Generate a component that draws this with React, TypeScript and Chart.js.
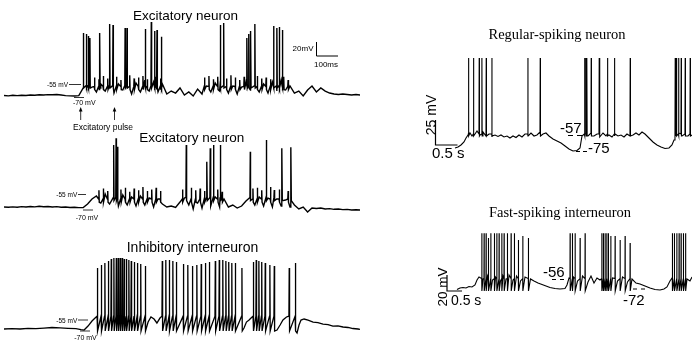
import React, { useEffect, useRef } from "react";
import { Chart, registerables } from "chart.js";

Chart.register(...registerables);

// ---------- Panel A: Excitatory neuron (top) — ms / mV ----------
const A_STEP_MS = 20;
const A_BASE_MV = [
  -69.4, -69.8, -69.1, -69.5, -69, -69.4, -68.8, -69.1, -68.5, -68.8, -68.3, -68.5, -68.1, -68.8, -69.5, -69.9, -70, -69.5,
  -60, -57.5, -58.8, -65, -55, -63.8, -52.5, -66.3, -55, -62.5, -51.3, -67.5, -53.8, -65, -50, -63.8, -52.5, -65, -55,
  -67.5, -63.8, -66.3, -60, -68.8, -65, -70, -61.3, -67.5, -57.5, -65, -53.8, -63.8, -55, -66.3, -57.5, -67.5, -58.8,
  -52.5, -62.5, -51.3, -65, -55, -66.3, -52.5, -63.8, -50, -62.5, -57.5,
  -66.3, -63.8, -70, -62.5, -57.5, -65, -60, -63.8, -66.3, -67.5, -68.1, -67.5, -68.1, -68.8, -68.1, -68.8,
];
const A_SPIKE_T = [360, 373, 382, 389, 434, 479, 494, 549, 558, 641, 668, 683, 694, 714, 982, 997, 1103, 1111, 1120, 1139, 1224, 1239, 1250, 1264];
const A_SPIKE_PEAK = [8.8, 7.5, 5, 2.5, 8.8, 20, 18.8, 15, 15, 13.8, 22.5, 11.3, 12.5, 4.1, 18.8, 21.3, 2.5, 7.5, 11.3, 20, 17.5, 15, 16.3, 12.5];
const A_MINI_T = [410, 430, 450, 470, 510, 530, 570, 590, 610, 630, 650, 690, 710, 910, 930, 950, 970, 1010, 1030, 1050, 1070, 1090, 1150, 1170, 1190, 1210, 1270, 1290];
const A_MINI_PEAK = [-47, -49, -45, -48, -46, -50, -44, -48, -47, -45, -49, -46, -48, -47, -45, -49, -46, -48, -44, -47, -50, -46, -45, -48, -47, -49, -46, -50];

// ---------- Panel B: Excitatory neuron (middle) ----------
const B_STEP_MS = 20;
const B_BASE_MV = [
  -70, -70.4, -69.8, -70.3, -69.5, -70, -69.4, -69.8, -69.1, -69.6, -69.4, -70, -69.5, -70.3, -70, -70.6, -70.4, -70.8, -70.6,
  -66.3, -60, -56.3, -65, -53.8, -66.3, -56.3, -68.8, -55, -67.5, -57.5, -68.8, -56.3, -67.5, -58.8, -70, -60,
  -66.3, -70, -68.8, -70.6, -63.8, -58.8, -67.5, -72.5, -65, -71.3,
  -58.8, -68.8, -57.5, -70, -60, -70, -67.5, -71.3, -68.8,
  -62.5, -56.3, -67.5, -57.5, -68.8, -58.8, -70, -60, -68.8, -61.3, -70,
  -67.5, -72.5, -70, -76.3, -71.3, -71.9, -71.3, -72.5, -72, -72.9, -72.5, -73.3, -73, -73.8, -73.5, -73.8,
];
const B_SPIKE_T = [497, 508, 515, 827, 921, 936, 951, 982, 1118, 1191, 1227, 1262, 1303];
const B_SPIKE_PEAK = [7.5, 15.9, 5.4, 7.5, -13.4, 3.4, 7.5, 7.5, -0.9, 13.8, -48.8, 3.4, 4.6];
const B_MINI_T = [430, 450, 470, 530, 550, 570, 590, 610, 630, 650, 670, 690, 710, 810, 850, 870, 890, 910, 970, 990, 1130, 1150, 1170, 1210, 1250, 1290];
const B_MINI_PEAK = [-49, -47, -50, -48, -46, -51, -47, -49, -45, -50, -48, -46, -50, -48, -46, -49, -47, -50, -48, -51, -47, -46, -49, -45, -48, -50];

// ---------- Panel C: Inhibitory interneuron ----------
const C_BASE_T = [0, 36, 73, 109, 145, 182, 218, 255, 291, 327, 350, 364, 382, 400, 414, 655, 668, 682, 695, 709, 1091, 1102, 1114, 1123, 1241, 1255, 1268, 1284, 1332, 1341, 1350, 1364, 1382, 1405, 1427, 1450, 1473, 1495, 1518, 1541, 1564, 1586, 1609, 1618];
const C_BASE_MV = [-70, -69.5, -70, -69.1, -69.6, -68.8, -68.1, -68.5, -69.1, -69.5, -70.8, -71.3, -66.3, -60, -56.3, -61.3, -55, -57.5, -62.5, -56.3, -68.8, -61.3, -58.8, -56.3, -71.3, -65, -58.8, -55, -75, -65, -58.8, -57.5, -58.8, -61.3, -61.9, -63.8, -64.4, -66.3, -66, -67.5, -68.1, -69.4, -70, -70.6];
const C_SPIKE_T = [
  423, 441, 457, 473, 486, 498, 509, 518, 527, 536, 545, 555, 566, 577, 591, 605, 620, 641,
  718, 734, 750, 766, 782, 814, 834, 855, 875, 895, 914, 932, 959, 977, 993, 1007, 1020, 1034, 1050, 1080,
  1132, 1145, 1157, 1170, 1186, 1207, 1227,
  1295, 1323,
];
const C_SPIKE_PEAK = [
  6.3, 10, 12.5, 15, 17.5, 18.8, 18.8, 18.8, 18.8, 18.8, 17.5, 17.5, 16.3, 15, 13.8, 12.5, 11.3, 8.8,
  15, 16.3, 16.3, 15, 13.8, 11.3, 10, 8.8, 10, 11.3, 12.5, 13.8, 15, 16.3, 16.3, 15, 13.8, 12.5, 12.5, 6.3,
  13.8, 16.3, 15, 13.8, 12.5, 10, 8.8,
  6.3, 12.5,
];

// ---------- Panel D: Regular-spiking neuron — s / mV ----------
const RS_BASE_T = [0.111, 0.178, 0.244, 0.311, 0.356, 0.4, 0.444, 0.489, 0.556, 0.6, 0.667, 0.733, 0.8, 0.867, 0.933, 1.0, 1.067, 1.133, 1.2, 1.267, 1.333, 1.4, 1.467, 1.533, 1.6, 1.667, 1.733, 1.8, 1.867, 1.933, 2.0, 2.067, 2.133, 2.2, 2.289, 2.378, 2.467, 2.556, 2.644, 2.733, 2.822, 2.889, 2.933, 3.0, 3.067, 3.133, 3.2, 3.267, 3.333, 3.4, 3.467, 3.533, 3.6, 3.667, 3.733, 3.8, 3.867, 3.933, 4.0, 4.067, 4.133, 4.2, 4.267, 4.333, 4.422, 4.511, 4.6, 4.689, 4.778, 4.867, 4.933, 4.978, 5.022, 5.089, 5.156, 5.222, 5.289, 5.378];
const RS_BASE_MV = [-71, -70, -68, -65, -61, -58, -56, -59, -57, -54, -58, -55, -59, -57, -60, -58, -59.5, -58, -60, -59, -61, -59, -60.5, -58, -60, -57, -59, -56, -59, -58, -55, -57, -56, -59, -62, -64, -66, -69, -72, -74, -73.5, -71, -59, -57, -59, -56, -59, -57, -60, -56, -59, -58, -60, -57, -59, -58, -60, -57, -59, -58, -56, -58, -55, -57, -61, -65, -68, -70, -71.5, -71, -68, -63, -58, -56, -59, -57, -59, -58];
const RS_SPIKE_T = [0.407, 0.518, 0.644, 0.704, 0.8, 0.927, 1.727, 2.0, 2.984, 3.016, 3.038, 3.133, 3.311, 3.496, 3.651, 4.0, 5.0, 5.029, 5.073, 5.133, 5.222, 5.333];
const RS_SPIKE_PEAK = [19, 19, 19, 19, 19, 19, 19, 19, 19, 19, 19, 19, 19, 19, 19, 19, 19, 19, 19, 19, 19, 19];

// ---------- Panel E: Fast-spiking interneuron — s / mV ----------
const FS_BASE_T = [0.233, 0.333, 0.433, 0.533, 0.633, 0.733, 0.833, 0.9, 0.967, 1.1, 1.25, 1.417, 1.517, 1.683, 1.767, 1.867, 1.967, 2.1, 2.217, 2.35, 2.5, 2.683, 2.8, 2.933, 3.067, 3.2, 3.333, 3.5, 3.667, 3.833, 3.9, 3.967, 4.117, 4.25, 4.417, 4.6, 4.7, 4.8, 4.9, 5.0, 5.417, 5.583, 5.75, 5.917, 6.067, 6.2, 6.333, 6.5, 6.667, 6.833, 7.0, 7.133, 7.233, 7.333, 7.4, 7.9, 8.0, 8.067];
const FS_BASE_MV = [-72.8, -70.5, -69.7, -70.5, -68.2, -68.9, -65.8, -58.2, -53.5, -56.6, -52, -58.2, -53.5, -59.7, -52, -56.6, -50.5, -58.2, -52, -59.7, -53.5, -56.6, -59.7, -62.8, -65.1, -67.4, -69.7, -71.2, -72, -71.2, -65.8, -55.1, -53.5, -59.7, -52, -61.2, -52, -62.8, -55.1, -58.2, -55.1, -59.7, -53.5, -61.2, -56.6, -62.8, -64.3, -67.4, -70.5, -72.8, -73.5, -72, -68.9, -59.7, -55.1, -56.6, -59.7, -53.5];
const FS_SPIKE_T = [
  1.057, 1.133, 1.2, 1.277, 1.357, 1.477, 1.557, 1.633, 1.723, 1.8, 1.91, 2.033, 2.143, 2.277, 2.423, 2.61,
  4.0, 4.077, 4.167, 4.333, 4.5,
  5.057, 5.11, 5.167, 5.223, 5.277, 5.357, 5.5, 5.667, 5.833, 6.0,
  7.41, 7.477, 7.557, 7.633, 7.7, 7.777, 7.85,
];
const FS_SPIKE_PEAK = [
  13.7, 13.7, 13.7, 6.4, 13.7, 13.7, 13.7, 13.7, 13.7, 13.7, 13.7, 13.7, 13.7, 3.4, 9.5, 6.4,
  13.7, 13.7, 13.7, 6.4, 13.7,
  13.7, 13.7, 13.7, 13.7, 13.7, 9.5, 9.5, 3.4, 9.5, -1.2,
  13.7, 13.7, 13.7, 13.7, 13.7, 13.7, 13.7,
];

type P = { x: number; y: number };

function uniform(step: number, vals: number[]): P[] {
  return vals.map((v, i) => ({ x: i * step, y: v }));
}
function paired(ts: number[], vs: number[]): P[] {
  return ts.map((t, i) => ({ x: t, y: vs[i] }));
}
function withSpikes(base: P[], ts: number[], peaks: number[], foot: number, after: number, w: number): P[] {
  const pts = base.slice();
  ts.forEach((t, i) => {
    pts.push({ x: t, y: foot }, { x: t + w / 2, y: peaks[i] }, { x: t + w, y: after });
  });
  return pts.sort((a, b) => a.x - b.x);
}

type TraceProps = {
  left: number; top: number; w: number; h: number;
  xr: [number, number]; yr: [number, number];
  points: P[]; lw: number;
};

function Trace({ left, top, w, h, xr, yr, points, lw }: TraceProps) {
  const ref = useRef<HTMLCanvasElement>(null);
  useEffect(() => {
    const chart = new Chart(ref.current as HTMLCanvasElement, {
      type: "scatter",
      data: {
        datasets: [
          {
            data: points,
            showLine: true,
            borderColor: "#000",
            borderWidth: lw,
            pointRadius: 0,
            tension: 0,
            fill: false,
            clip: false as any,
          } as any,
        ],
      },
      options: {
        animation: false,
        responsive: false,
        maintainAspectRatio: false,
        devicePixelRatio: 1,
        events: [],
        layout: { padding: 0 },
        plugins: { legend: { display: false }, tooltip: { enabled: false }, title: { display: false } },
        scales: {
          x: { type: "linear", min: xr[0], max: xr[1], display: false },
          y: { type: "linear", min: yr[0], max: yr[1], display: false },
        },
      },
    });
    return () => chart.destroy();
  }, []);
  return (
    <canvas
      ref={ref}
      width={w}
      height={h}
      style={{ position: "absolute", left, top, width: w, height: h }}
    />
  );
}

const sans = "'Liberation Sans', Arial, sans-serif";
const serif = "'Liberation Serif', 'Times New Roman', serif";

export default function App() {
  const ptsA = withSpikes(
    withSpikes(uniform(A_STEP_MS, A_BASE_MV), A_SPIKE_T, A_SPIKE_PEAK, -57, -60, 3),
    A_MINI_T, A_MINI_PEAK, -58, -62, 3,
  );
  const ptsB = withSpikes(
    withSpikes(uniform(B_STEP_MS, B_BASE_MV), B_SPIKE_T, B_SPIKE_PEAK, -58, -62, 3),
    B_MINI_T, B_MINI_PEAK, -60, -64, 3,
  );
  const ptsC = withSpikes(paired(C_BASE_T, C_BASE_MV), C_SPIKE_T, C_SPIKE_PEAK, -54, -72.5, 3);
  const ptsRS = withSpikes(paired(RS_BASE_T, RS_BASE_MV), RS_SPIKE_T, RS_SPIKE_PEAK, -57, -59, 0.01);
  const ptsFS = withSpikes(paired(FS_BASE_T, FS_BASE_MV), FS_SPIKE_T, FS_SPIKE_PEAK, -56, -75, 0.008);

  const ln = { stroke: "#000", strokeWidth: 0.8 };
  return (
    <div style={{ position: "fixed", left: 0, top: 0, width: 692, height: 347, overflow: "hidden", background: "#fff" }}>
      <Trace left={4} top={15} w={356} h={100} xr={[0, 1618.18]} yr={[-93.75, 31.25]} points={ptsA} lw={1.4} />
      <Trace left={4} top={126} w={356} h={100} xr={[0, 1618.18]} yr={[-93.75, 31.25]} points={ptsB} lw={1.4} />
      <Trace left={4} top={248} w={356} h={99} xr={[0, 1618.18]} yr={[-92.5, 31.25]} points={ptsC} lw={1.3} />
      <Trace left={450} top={40} w={242} h={125} xr={[0, 5.378]} yr={[-88, 37]} points={ptsRS} lw={1.1} />
      <Trace left={450} top={215} w={242} h={90} xr={[0, 8.067]} yr={[-96.6, 41.8]} points={ptsFS} lw={1.1} />
      <svg width={692} height={347} style={{ position: "absolute", left: 0, top: 0, pointerEvents: "none" }}>
        <g fontFamily={sans} fill="#000">
          <text x={185.5} y={19.5} fontSize={13.5} textAnchor="middle">Excitatory neuron</text>
          <text x={191.7} y={142.3} fontSize={13.5} textAnchor="middle">Excitatory neuron</text>
          <text x={192.5} y={251.7} fontSize={14} textAnchor="middle">Inhibitory interneuron</text>

          <text x={68} y={86.8} fontSize={6.5} textAnchor="end">-55 mV</text>
          <text x={84.3} y={104.5} fontSize={7} textAnchor="middle">-70 mV</text>
          <text x={73} y={129.5} fontSize={8.5}>Excitatory pulse</text>
          <text x={313.5} y={51} fontSize={8} textAnchor="end">20mV</text>
          <text x={314} y={66.5} fontSize={8}>100ms</text>

          <text x={77.3} y={196.8} fontSize={6.5} textAnchor="end">-55 mV</text>
          <text x={87} y={220.2} fontSize={7} textAnchor="middle">-70 mV</text>

          <text x={77.3} y={322.5} fontSize={6.5} textAnchor="end">-55 mV</text>
          <text x={85.5} y={340.2} fontSize={7} textAnchor="middle">-70 mV</text>

          <text x={557} y={39.3} fontSize={14.5} fontFamily={serif} textAnchor="middle">Regular-spiking neuron</text>
          <text transform="translate(430.5,115) rotate(-90)" fontSize={14} textAnchor="middle" dominantBaseline="central">25 mV</text>
          <text x={432} y={158.3} fontSize={15}>0.5 s</text>
          <text x={560} y={133} fontSize={15}>-57</text>
          <text x={588} y={153} fontSize={15}>-75</text>

          <text x={560} y={216.7} fontSize={14.5} fontFamily={serif} textAnchor="middle">Fast-spiking interneuron</text>
          <text transform="translate(442.5,287) rotate(-90)" fontSize={13.5} textAnchor="middle" dominantBaseline="central">20 mV</text>
          <text x={451} y={305} fontSize={14}>0.5 s</text>
          <text x={543} y={276.5} fontSize={15}>-56</text>
          <text x={623} y={305} fontSize={15}>-72</text>
        </g>
        <g fill="none">
          <line x1={69} y1={84.5} x2={81} y2={84.5} {...ln} />
          <line x1={74} y1={97.5} x2={84} y2={97.5} {...ln} />
          <line x1={80.7} y1={110} x2={80.7} y2={120} {...ln} />
          <line x1={114.5} y1={110} x2={114.5} y2={120} {...ln} />
          <polyline points="316.5,42 316.5,56 338,56" stroke="#000" strokeWidth={1} />

          <line x1={78} y1={194.5} x2={86} y2={194.5} {...ln} />
          <line x1={83} y1={210} x2={93} y2={210} {...ln} />

          <line x1={78} y1={320} x2={88} y2={320} {...ln} />
          <line x1={80} y1={331} x2={90} y2={331} {...ln} />

          <polyline points="435.5,120 435.5,145 457.5,145" stroke="#000" strokeWidth={1.2} />
          <line x1={568} y1={135.5} x2={583} y2={135.5} stroke="#000" strokeWidth={1} strokeDasharray="5 4" />
          <line x1={576} y1={151.5} x2={588} y2={151.5} stroke="#000" strokeWidth={1} strokeDasharray="4 3" />

          <polyline points="447,275 447,291 462,291" stroke="#000" strokeWidth={1.2} />
          <line x1={552} y1={279.5} x2={567} y2={279.5} stroke="#000" strokeWidth={1} strokeDasharray="4 4" />
          <line x1={633} y1={289} x2={649} y2={289} stroke="#000" strokeWidth={1} strokeDasharray="4 4" />
        </g>
        <g fill="#000">
          <polygon points="80.7,107 78.9,111.5 82.5,111.5" />
          <polygon points="114.5,107 112.7,111.5 116.3,111.5" />
        </g>
      </svg>
    </div>
  );
}
